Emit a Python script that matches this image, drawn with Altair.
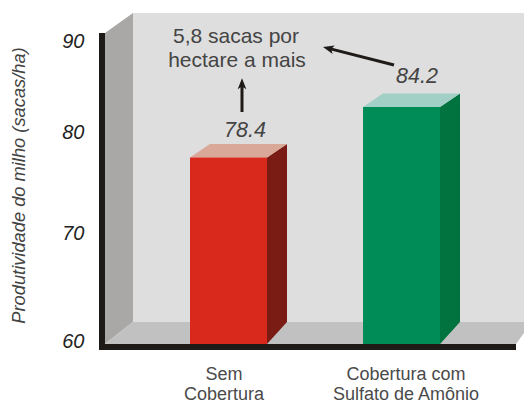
import altair as alt
import pandas as pd

categories = [["Sem", "Cobertura"], ["Cobertura com", "Sulfato de Amônio"]]
value_labels = ["78.4", "84.2"]
bar_tops = [78.65, 83.7]
bar_lefts = [190, 363]
bar_rights = [267, 440]
bar_centers = [224, 406]
front_colors = ["#d9281c", "#008c56"]
side_colors = ["#7a1c14", "#00733f"]
top_colors = ["#d9a898", "#a2d0c6"]
tick_values = [60, 70, 80, 90]
tick_positions = [333, 225, 124, 33]
note_lines = ["5,8 sacas por", "hectare a mais"]

FONT = "Liberation Sans"
W, H = 516, 397
X = alt.Scale(domain=[8, 524], range=[0, W], nice=False, zero=False)
Y = alt.Scale(domain=[53.9, 93.6], range=[H, 0], nice=False, zero=False)
DX, DY, FLOOR = 20, 1.35, 62.2


def xe(f="x"):
    return alt.X(f"{f}:Q", scale=X, axis=None)


def ye(f="y"):
    return alt.Y(f"{f}:Q", scale=Y, axis=None, stack=None)


def poly(rows, color):
    df = pd.DataFrame(rows, columns=["x", "y", "y2"])
    return alt.Chart(df).mark_area(color=color, interpolate="linear", orient="vertical", opacity=1).encode(
        x=xe(), y=ye(), y2="y2:Q"
    )


def rect(x, x2, y, y2, color):
    df = pd.DataFrame({"x": [x], "x2": [x2], "y": [y], "y2": [y2]})
    return alt.Chart(df).mark_rect(color=color).encode(x=xe(), x2="x2:Q", y=ye(), y2="y2:Q")


def label(rows, size, color, style="normal"):
    df = pd.DataFrame(rows, columns=["x", "y", "t"])
    return alt.Chart(df).mark_text(
        font=FONT, fontSize=size, color=color, fontStyle=style, align="center", baseline="middle"
    ).encode(x=xe(), y=ye(), text="t:N")


def arrow(x0, y0, x1, y1, angle):
    df = pd.DataFrame({"x": [x0, x1], "y": [y0, y1], "o": [0, 1]})
    line = alt.Chart(df).mark_line(color="#1e1a18", strokeWidth=3, interpolate="linear").encode(
        x=xe(), y=ye(), order="o:Q"
    )
    head = alt.Chart(df[df.o == 1]).mark_point(
        shape="M0,-1L0.75,0.9L0,0.45L-0.75,0.9Z", filled=True, color="#1e1a18", opacity=1,
        size=135, angle=angle,
    ).encode(x=xe(), y=ye())
    return [line, head]


layers = [
    rect(133, 524, 93.1, FLOOR, "#dedede"),
    poly([(105, 91.1, 60), (133, 93.1, FLOOR)], "#a9a8a6"),
    poly([(105, 60, 60), (133, FLOOR, 60), (516, FLOOR, 60), (524, FLOOR, 61.1)], "#c1c1c1"),
]

for i, top in enumerate(bar_tops):
    l, r = bar_lefts[i], bar_rights[i]
    layers += [
        poly([(r, top, 60), (r + DX, top + DY, FLOOR)], side_colors[i]),
        poly([(l, top, top), (l + DX, top + DY, top), (r, top + DY, top), (r + DX, top + DY, top + DY)], top_colors[i]),
        rect(l, r, top, 60, front_colors[i]),
    ]

layers += [
    rect(99, 105, 91.1, 59.4, "#1e1a18"),
    rect(100, 516, 60, 59.4, "#1e1a18"),
]

layers += arrow(242, 83.2, 242, 86.0, 0)
layers += arrow(394, 87.9, 328.6, 89.56, 284)

layers += [
    label([(245, 81.3, value_labels[0]), (417, 86.7, value_labels[1])], 21.5, "#444444", "italic"),
    label([(236, 90.7, note_lines[0]), (237, 88.3, note_lines[1])], 21, "#444444"),
    label(
        [(c, 56.9 - 2.0 * j, line) for c, lines in zip(bar_centers, categories) for j, line in enumerate(lines)],
        18, "#4a4a4a",
    ),
]

ticks = pd.DataFrame({"v": tick_values})
axis_layer = alt.Chart(ticks).mark_rule(opacity=0).encode(
    y=alt.Y(
        "v:Q",
        scale=alt.Scale(domain=tick_values, range=tick_positions, nice=False, zero=False),
        axis=alt.Axis(
            values=tick_values, format="d", orient="left", offset=-76, domain=False, ticks=False,
            grid=False, labelPadding=0, labelFont=FONT, labelFontSize=20, labelFontStyle="italic",
            labelColor="#222222", title="Produtividade do milho (sacas/ha)", titleFont=FONT,
            titleFontSize=18.3, titleFontStyle="italic", titleFontWeight="normal", titleColor="#444444",
            titleX=-65, titleY=177, titleAngle=270, titleAlign="center", titleBaseline="middle",
        ),
    )
)

chart = alt.layer(axis_layer, *layers).resolve_scale(y="independent").properties(
    width=W, height=H, padding=0, background="white", autosize=alt.AutoSizeParams(type="none")
).configure_view(stroke=None)

chart.save("out.html", embed_options={"renderer": "svg", "actions": False})
